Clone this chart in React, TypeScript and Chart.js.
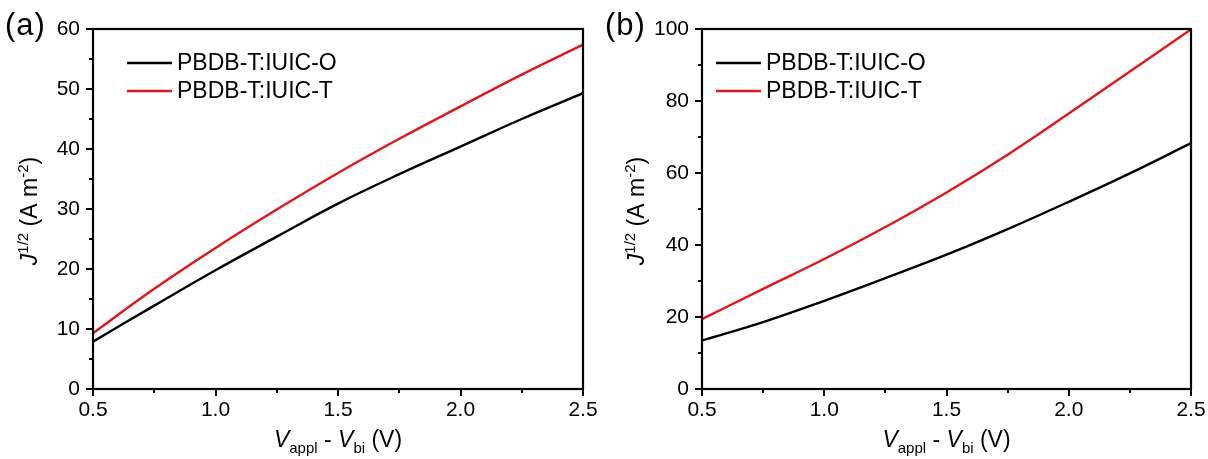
import React, { useEffect, useRef } from 'react';
import { Chart, registerables } from 'chart.js';

Chart.register(...registerables);

// ---- data ----
const voltage = [0.5, 0.75, 1.0, 1.25, 1.5, 1.75, 2.0, 2.25, 2.5];
const panelAIuicO = [7.9, 13.9, 19.8, 25.4, 30.9, 35.8, 40.4, 45.0, 49.3];
const panelAIuicT = [9.3, 16.7, 23.5, 29.9, 36.0, 41.7, 47.1, 52.4, 57.4];
const panelBIuicO = [13.5, 18.6, 24.5, 30.8, 37.3, 44.4, 52.0, 59.9, 68.3];
const panelBIuicT = [19.4, 27.8, 36.1, 45.0, 54.6, 65.1, 76.5, 88.2, 99.9];
const seriesLabels = ['PBDB-T:IUIC-O', 'PBDB-T:IUIC-T'];
const seriesColors = ['#000000', '#e3151a'];
const xTicks = [0.5, 1.0, 1.5, 2.0, 2.5];
const xMinorTicks = [0.75, 1.25, 1.75, 2.25];
const panelAYTicks = [0, 10, 20, 30, 40, 50, 60];
const panelAYMinor = [5, 15, 25, 35, 45, 55];
const panelBYTicks = [0, 20, 40, 60, 80, 100];
const panelBYMinor = [10, 30, 50, 70, 90];

const FONT = '"Liberation Sans", Arial, Helvetica, sans-serif';

type Seg = { t: string; size: number; italic?: boolean; dy?: number };

function drawRich(ctx: CanvasRenderingContext2D, segs: Seg[], cx: number, y: number) {
  let total = 0;
  const widths: number[] = [];
  segs.forEach((s) => {
    ctx.font = `${s.italic ? 'italic ' : ''}${s.size}px ${FONT}`;
    const w = ctx.measureText(s.t).width;
    widths.push(w);
    total += w;
  });
  let cur = cx - total / 2;
  segs.forEach((s, i) => {
    ctx.font = `${s.italic ? 'italic ' : ''}${s.size}px ${FONT}`;
    ctx.fillText(s.t, cur, y + (s.dy || 0));
    cur += widths[i];
  });
}

const yTitleSegs: Seg[] = [
  { t: 'J', size: 23, italic: true },
  { t: '1/2', size: 15, dy: -9 },
  { t: ' (A m', size: 23 },
  { t: '-2', size: 15, dy: -9 },
  { t: ')', size: 23 },
];
const xTitleSegs: Seg[] = [
  { t: 'V', size: 23, italic: true },
  { t: 'appl', size: 15, dy: 6 },
  { t: ' - ', size: 23 },
  { t: 'V', size: 23, italic: true },
  { t: 'bi', size: 15, dy: 6 },
  { t: ' (V)', size: 23 },
];

type PanelProps = {
  tag: string;
  oValues: number[];
  tValues: number[];
  yTicks: number[];
  yMinor: number[];
  axisWidth: number;
  rightPad: number;
  legendLeft: number;
  yTitleX: number;
};

function Panel(props: PanelProps) {
  const ref = useRef<HTMLCanvasElement | null>(null);
  useEffect(() => {
    if (!ref.current) return;
    const { oValues, tValues, yTicks, yMinor, axisWidth, rightPad, legendLeft, yTitleX } = props;
    const yMin = yTicks[0];
    const yMax = yTicks[yTicks.length - 1];
    const yStep = yTicks[1] - yTicks[0];

    const decor = {
      id: 'decor',
      afterDatasetsDraw(chart: any) {
        const ctx = chart.ctx as CanvasRenderingContext2D;
        const a = chart.chartArea;
        const xs = chart.scales.x;
        const ys = chart.scales.y;
        ctx.save();
        ctx.strokeStyle = '#000';
        ctx.lineWidth = 2.2;
        ctx.strokeRect(a.left, a.top, a.right - a.left, a.bottom - a.top);
        // minor ticks
        ctx.lineWidth = 2;
        ctx.beginPath();
        xMinorTicks.forEach((v) => {
          const px = Math.round(xs.getPixelForValue(v));
          ctx.moveTo(px, a.bottom);
          ctx.lineTo(px, a.bottom + 4);
        });
        yMinor.forEach((v) => {
          const py = Math.round(ys.getPixelForValue(v));
          ctx.moveTo(a.left, py);
          ctx.lineTo(a.left - 4, py);
        });
        ctx.stroke();
        // legend
        chart.data.datasets.forEach((ds: any, i: number) => {
          const ly = a.top + 34 + i * 28;
          ctx.strokeStyle = ds.borderColor;
          ctx.lineWidth = 2.6;
          ctx.beginPath();
          ctx.moveTo(a.left + legendLeft, ly);
          ctx.lineTo(a.left + legendLeft + 45, ly);
          ctx.stroke();
          ctx.fillStyle = '#000';
          ctx.font = `23px ${FONT}`;
          ctx.textBaseline = 'middle';
          ctx.textAlign = 'left';
          ctx.fillText(ds.label, a.left + legendLeft + 50, ly + 1);
        });
        // axis titles
        ctx.fillStyle = '#000';
        ctx.textBaseline = 'alphabetic';
        ctx.textAlign = 'left';
        drawRich(ctx, xTitleSegs, (a.left + a.right) / 2, 447);
        ctx.translate(yTitleX, (a.top + a.bottom) / 2 + 2);
        ctx.rotate(-Math.PI / 2);
        drawRich(ctx, yTitleSegs, 0, 0);
        ctx.restore();
      },
    };

    const chart = new Chart(ref.current, {
      type: 'line',
      data: {
        datasets: [
          {
            label: seriesLabels[0],
            data: voltage.map((v, i) => ({ x: v, y: oValues[i] })),
            borderColor: seriesColors[0],
            backgroundColor: seriesColors[0],
            borderWidth: 2.4,
            pointRadius: 0,
            tension: 0.4,
          },
          {
            label: seriesLabels[1],
            data: voltage.map((v, i) => ({ x: v, y: tValues[i] })),
            borderColor: seriesColors[1],
            backgroundColor: seriesColors[1],
            borderWidth: 2.4,
            pointRadius: 0,
            tension: 0.4,
          },
        ],
      },
      options: {
        responsive: false,
        animation: false,
        devicePixelRatio: 1,
        layout: { padding: { left: 0, right: rightPad, top: 29, bottom: 0 } },
        plugins: { legend: { display: false }, tooltip: { enabled: false } },
        scales: {
          x: {
            type: 'linear',
            min: xTicks[0],
            max: xTicks[xTicks.length - 1],
            afterBuildTicks: (s: any) => {
              s.ticks = xTicks.map((v) => ({ value: v }));
            },
            afterFit: (s: any) => {
              s.height = 70;
            },
            ticks: {
              color: '#000',
              font: { family: FONT, size: 21 },
              padding: 2,
              maxRotation: 0,
              callback: (v: any) => Number(v).toFixed(1),
            },
            grid: {
              drawOnChartArea: false,
              color: '#000',
              lineWidth: 2,
              tickLength: 7,
            },
            border: { display: false },
          },
          y: {
            type: 'linear',
            min: yMin,
            max: yMax,
            afterBuildTicks: (s: any) => {
              s.ticks = yTicks.map((v) => ({ value: v }));
            },
            afterFit: (s: any) => {
              s.width = axisWidth;
            },
            ticks: {
              color: '#000',
              font: { family: FONT, size: 21 },
              padding: 6,
              stepSize: yStep,
              callback: (v: any) => String(v),
            },
            grid: {
              drawOnChartArea: false,
              color: '#000',
              lineWidth: 2,
              tickLength: 7,
            },
            border: { display: false },
          },
        },
      },
      plugins: [decor],
    } as any);
    return () => chart.destroy();
  }, []);
  return <canvas ref={ref} width={604} height={459} style={{ display: 'block', width: 604, height: 459 }} />;
}

export default function App() {
  const tagStyle: React.CSSProperties = {
    position: 'absolute',
    top: 8,
    fontFamily: FONT,
    fontSize: 31,
    letterSpacing: 1,
    color: '#000',
    lineHeight: '34px',
  };
  return (
    <div style={{ position: 'absolute', left: 0, top: 0, width: 1208, height: 459, background: '#fff', overflow: 'hidden' }}>
      <div style={{ position: 'absolute', left: 0, top: 0 }}>
        <Panel
          tag="(a)"
          oValues={panelAIuicO}
          tValues={panelAIuicT}
          yTicks={panelAYTicks}
          yMinor={panelAYMinor}
          axisWidth={93}
          rightPad={21}
          legendLeft={34}
          yTitleX={37}
        />
      </div>
      <div style={{ position: 'absolute', left: 604, top: 0 }}>
        <Panel
          tag="(b)"
          oValues={panelBIuicO}
          tValues={panelBIuicT}
          yTicks={panelBYTicks}
          yMinor={panelBYMinor}
          axisWidth={98}
          rightPad={17}
          legendLeft={14}
          yTitleX={40}
        />
      </div>
      <div style={{ ...tagStyle, left: 5 }}>(a)</div>
      <div style={{ ...tagStyle, left: 605 }}>(b)</div>
    </div>
  );
}
